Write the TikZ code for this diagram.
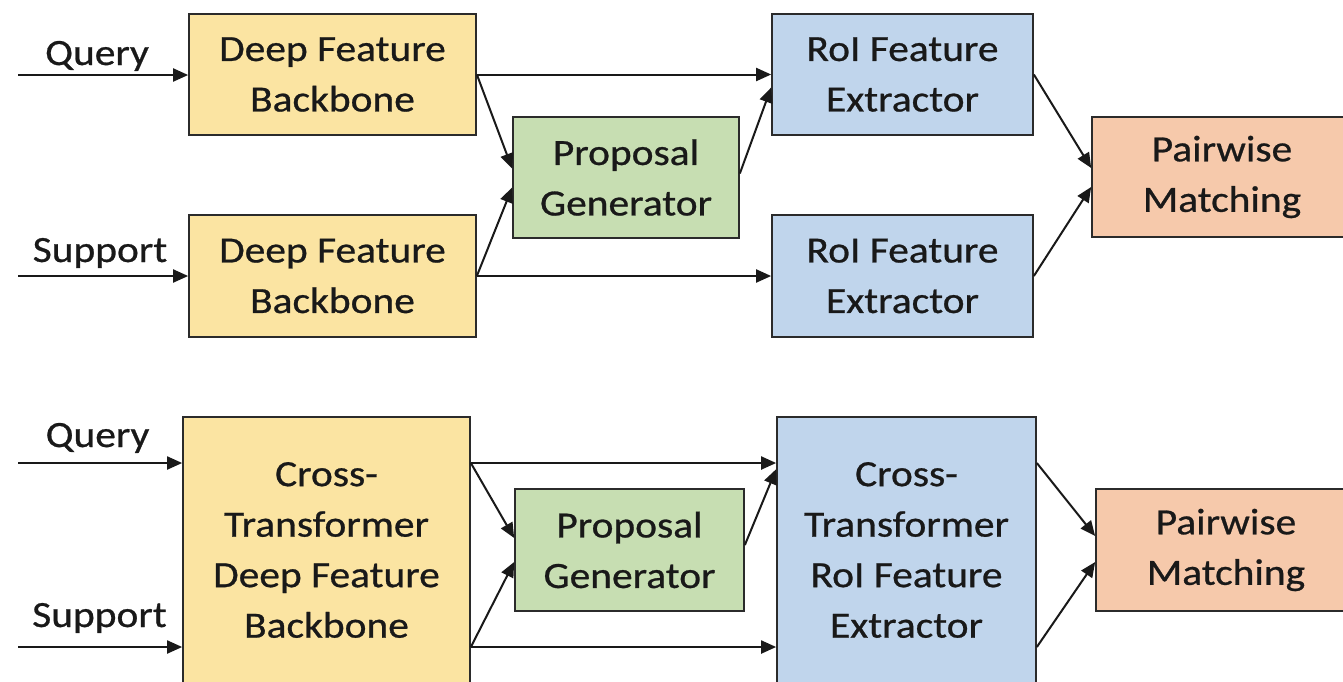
\documentclass[tikz,border=0pt]{standalone}
\usepackage{fontspec}
\setmainfont{Carlito}[FakeStretch=1.12,FakeBold=0.7]
\usetikzlibrary{arrows.meta,calc}
\definecolor{bbfill}{HTML}{FBE4A2}
\definecolor{rofill}{HTML}{C0D5EC}
\definecolor{pgfill}{HTML}{C7DEB2}
\definecolor{pmfill}{HTML}{F6C9AB}
\definecolor{edge}{HTML}{2B2B2B}
\tikzset{
  blk/.style={draw=edge, line width=1.7pt, inner sep=0pt, align=center,
    font=\fontsize{37}{50.5}\selectfont, text=black!90},
  bb/.style={blk, fill=bbfill},
  ro/.style={blk, fill=rofill},
  pg/.style={blk, fill=pgfill},
  pm/.style={blk, fill=pmfill},
  lbl/.style={font=\fontsize{37}{50}\selectfont, anchor=base, inner sep=0pt, text=black!90},
  arr/.style={line width=2pt, draw=black!90, -{Triangle[length=15pt,width=13pt]}},
}
\begin{document}
\begin{tikzpicture}[x=1pt,y=-1pt]
\useasboundingbox (0,0) rectangle (1343,681);

% ---- upper pipeline ----
\node[bb, minimum width=287pt, minimum height=121pt] (dfb1) at (332.5,74.5) {Deep Feature\\Backbone};
\node[bb, minimum width=287pt, minimum height=122pt] (dfb2) at (332.5,276) {Deep Feature\\Backbone};
\node[pg, minimum width=226pt, minimum height=121pt] (pg1) at (626,177.5) {Proposal\\Generator};
\node[ro, minimum width=261pt, minimum height=121pt] (rol1) at (902.5,74.5) {RoI Feature\\Extractor};
\node[ro, minimum width=261pt, minimum height=122pt] (rol2) at (902.5,276) {RoI Feature\\Extractor};
\node[pm, minimum width=260pt, minimum height=120pt] (pm1) at (1222,177) {Pairwise\\Matching};

\node[lbl] (q1) at (97,65) {Query};
\node[lbl] (s1) at (100,262) {Support};
\coordinate (qin1) at (18,75);
\coordinate (sin1) at (18,276);

\draw[arr] (qin1) -- (qin1 -| dfb1.west);
\draw[arr] (sin1) -- (sin1 -| dfb2.west);
\draw[arr] (dfb1.east) -- (rol1.west);
\draw[arr] (dfb2.east) -- (rol2.west);
\draw[arr] (dfb1.east) -- ($(pg1.west)+(0,-9)$);
\draw[arr] (dfb2.east) -- ($(pg1.west)+(0,10)$);
\draw[arr] ($(pg1.east)+(0,-4)$) -- ($(rol1.west)+(0,13)$);
\draw[arr] (rol1.east) -- ($(pm1.west)+(0,-9)$);
\draw[arr] (rol2.east) -- ($(pm1.west)+(0,10)$);

% ---- lower pipeline (cross-transformer) ----
\node[bb, minimum width=287pt, minimum height=266pt] (ctd) at (326.5,550) {Cross-\\Transformer\\Deep Feature\\Backbone};
\node[pg, minimum width=229pt, minimum height=122pt] (pg2) at (629.5,550) {Proposal\\Generator};
\node[ro, minimum width=259pt, minimum height=266pt] (ctr) at (906.5,550) {Cross-\\Transformer\\RoI Feature\\Extractor};
\node[pm, minimum width=260pt, minimum height=122pt] (pm2) at (1226,550) {Pairwise\\Matching};

\node[lbl] (q2) at (97.5,447) {Query};
\node[lbl] (s2) at (99.5,627) {Support};
\coordinate (qin2) at (18,463);
\coordinate (sin2) at (18,647);

\draw[arr] (qin2) -- (qin2 -| ctd.west);
\draw[arr] (sin2) -- (sin2 -| ctd.west);
\draw[arr] (qin2 -| ctd.east) -- (qin2 -| ctr.west);
\draw[arr] (sin2 -| ctd.east) -- (sin2 -| ctr.west);
\draw[arr] (qin2 -| ctd.east) -- ($(pg2.west)+(0,-12)$);
\draw[arr] (sin2 -| ctd.east) -- ($(pg2.west)+(0,12)$);
\draw[arr] ($(pg2.east)+(0,-5)$) -- ($(ctr.north west)+(0,53)$);
\draw[arr] (qin2 -| ctr.east) -- ($(pm2.west)+(0,-14)$);
\draw[arr] (sin2 -| ctr.east) -- ($(pm2.west)+(0,12)$);
\end{tikzpicture}
\end{document}
